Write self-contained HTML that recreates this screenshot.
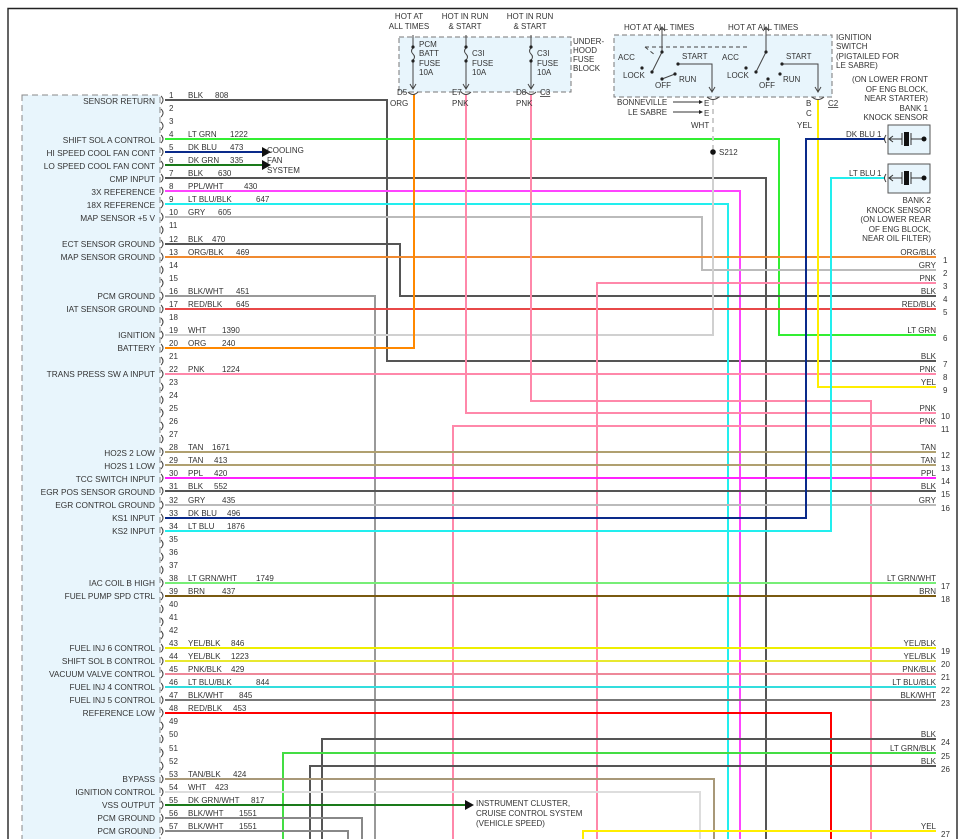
<!DOCTYPE html>
<html><head><meta charset="utf-8"><style>
html,body{margin:0;padding:0;background:#fff}
svg{display:block}
text{font-family:"Liberation Sans",Arial,sans-serif;font-size:8px;fill:#333}
.l{text-anchor:end;font-size:8.3px}
.r{text-anchor:end}
.c{text-anchor:middle}
path.w{fill:none;stroke-width:2}
</style></head><body>
<svg width="961" height="839" viewBox="0 0 961 839" xmlns="http://www.w3.org/2000/svg">
<path d="M8 839 V8.5 H957 V839" fill="none" stroke="#222" stroke-width="1.4"/>

<rect x="22" y="95" width="138" height="760" fill="#e8f5fc" stroke="#888" stroke-dasharray="6,4"/>

<g class="wires">
<path class="w" stroke="#555" d="M165 100 H387 V361 H936"/>
<path class="w" stroke="#33ee33" d="M165 139 H779 V335 H936"/>
<path class="w" stroke="#0a2a8a" d="M165 152 H262"/>
<path class="w" stroke="#1a7a1a" d="M165 165 H262"/>
<polygon points="262,147 271,152 262,157" fill="#111"/>
<polygon points="262,160 271,165 262,170" fill="#111"/>
<path class="w" stroke="#555" d="M165 178 H766 V839"/>
<path class="w" stroke="#ff44ff" d="M165 191 H740 V839"/>
<path class="w" stroke="#22eeee" d="M165 204 H728 V839"/>
<path class="w" stroke="#bbb" d="M165 217 H702 V270 H936"/>
<path class="w" stroke="#555" d="M165 244 H400 V296 H936"/>
<path class="w" stroke="#f08a30" d="M165 257 H936"/>
<path class="w" stroke="#999" d="M165 296 H375 V839"/>
<path class="w" stroke="#e84848" d="M165 309 H936"/>
<path class="w" stroke="#d0d0d0" d="M165 335 H713 V152"/>
<path class="w" stroke="#ccc" stroke-dasharray="5,4" d="M713 100 V152"/>
<circle cx="713" cy="152" r="2.8" fill="#111"/>
<path class="w" stroke="#ff8800" d="M165 348 H414 V94"/>
<path class="w" stroke="#ff88aa" d="M165 374 H936"/>
<path class="w" stroke="#ff88aa" d="M936 283 H597 V839"/>
<path class="w" stroke="#ffee00" d="M936 387 H818 V100"/>
<path class="w" stroke="#ff88aa" d="M466 94 V413 H936"/>
<path class="w" stroke="#ff88aa" d="M531 94 V401 H871 V839"/>
<path class="w" stroke="#ff88aa" d="M936 426 H453 V839"/>
<path class="w" stroke="#b0a070" d="M165 452 H936"/>
<path class="w" stroke="#b0a070" d="M165 465 H936"/>
<path class="w" stroke="#ff22ff" d="M165 478 H936"/>
<path class="w" stroke="#555" d="M165 491 H936"/>
<path class="w" stroke="#bbb" d="M165 505 H936"/>
<path class="w" stroke="#0a2a8a" d="M165 518 H806 V139 H885"/>
<path class="w" stroke="#22eeee" d="M165 531 H831 V178 H885"/>
<path class="w" stroke="#77ee77" d="M165 583 H936"/>
<path class="w" stroke="#7a5a10" d="M165 596 H936"/>
<path class="w" stroke="#eeee00" d="M165 648 H936"/>
<path class="w" stroke="#e8e830" d="M165 661 H936"/>
<path class="w" stroke="#ee8899" d="M165 674 H936"/>
<path class="w" stroke="#33dddd" d="M165 687 H936"/>
<path class="w" stroke="#777" d="M165 700 H936"/>
<path class="w" stroke="#ff0000" d="M165 713 H831 V839"/>
<path class="w" stroke="#555" d="M936 739 H322 V839"/>
<path class="w" stroke="#44dd44" d="M936 753 H283 V839"/>
<path class="w" stroke="#555" d="M936 766 H310 V839"/>
<path class="w" stroke="#a89878" d="M165 779 H714 V839"/>
<path class="w" stroke="#ddd" d="M165 792 H700 V839"/>
<path class="w" stroke="#1a7a1a" d="M165 805 H465"/>
<polygon points="465,800 474,805 465,810" fill="#111"/>
<path class="w" stroke="#888" d="M165 818 H362 V839"/>
<path class="w" stroke="#888" d="M165 831 H348 V839"/>
<path class="w" stroke="#ffee00" d="M936 831 H583 V839"/>
</g>

<g fill="none" stroke="#444" stroke-width="1">
<path d="M161 96 q4 4 0 8"/><path d="M161 109 q4 4 0 8"/><path d="M161 122 q4 4 0 8"/><path d="M161 135 q4 4 0 8"/><path d="M161 148 q4 4 0 8"/><path d="M161 161 q4 4 0 8"/><path d="M161 174 q4 4 0 8"/><path d="M161 187 q4 4 0 8"/><path d="M161 200 q4 4 0 8"/><path d="M161 213 q4 4 0 8"/><path d="M161 226 q4 4 0 8"/><path d="M161 240 q4 4 0 8"/><path d="M161 253 q4 4 0 8"/><path d="M161 266 q4 4 0 8"/><path d="M161 279 q4 4 0 8"/><path d="M161 292 q4 4 0 8"/><path d="M161 305 q4 4 0 8"/><path d="M161 318 q4 4 0 8"/><path d="M161 331 q4 4 0 8"/><path d="M161 344 q4 4 0 8"/><path d="M161 357 q4 4 0 8"/><path d="M161 370 q4 4 0 8"/><path d="M161 383 q4 4 0 8"/><path d="M161 396 q4 4 0 8"/><path d="M161 409 q4 4 0 8"/><path d="M161 422 q4 4 0 8"/><path d="M161 435 q4 4 0 8"/><path d="M161 448 q4 4 0 8"/><path d="M161 461 q4 4 0 8"/><path d="M161 474 q4 4 0 8"/><path d="M161 487 q4 4 0 8"/><path d="M161 501 q4 4 0 8"/><path d="M161 514 q4 4 0 8"/><path d="M161 527 q4 4 0 8"/><path d="M161 540 q4 4 0 8"/><path d="M161 553 q4 4 0 8"/><path d="M161 566 q4 4 0 8"/><path d="M161 579 q4 4 0 8"/><path d="M161 592 q4 4 0 8"/><path d="M161 605 q4 4 0 8"/><path d="M161 618 q4 4 0 8"/><path d="M161 631 q4 4 0 8"/><path d="M161 644 q4 4 0 8"/><path d="M161 657 q4 4 0 8"/><path d="M161 670 q4 4 0 8"/><path d="M161 683 q4 4 0 8"/><path d="M161 696 q4 4 0 8"/><path d="M161 709 q4 4 0 8"/><path d="M161 722 q4 4 0 8"/><path d="M161 735 q4 4 0 8"/><path d="M161 749 q4 4 0 8"/><path d="M161 762 q4 4 0 8"/><path d="M161 775 q4 4 0 8"/><path d="M161 788 q4 4 0 8"/><path d="M161 801 q4 4 0 8"/><path d="M161 814 q4 4 0 8"/><path d="M161 827 q4 4 0 8"/>
</g>

<g>
<text x="169" y="98">1</text><text x="169" y="111">2</text><text x="169" y="124">3</text><text x="169" y="137">4</text><text x="169" y="150">5</text><text x="169" y="163">6</text><text x="169" y="176">7</text><text x="169" y="189">8</text><text x="169" y="202">9</text><text x="169" y="215">10</text><text x="169" y="228">11</text><text x="169" y="242">12</text><text x="169" y="255">13</text><text x="169" y="268">14</text><text x="169" y="281">15</text><text x="169" y="294">16</text><text x="169" y="307">17</text><text x="169" y="320">18</text><text x="169" y="333">19</text><text x="169" y="346">20</text><text x="169" y="359">21</text><text x="169" y="372">22</text><text x="169" y="385">23</text><text x="169" y="398">24</text><text x="169" y="411">25</text><text x="169" y="424">26</text><text x="169" y="437">27</text><text x="169" y="450">28</text><text x="169" y="463">29</text><text x="169" y="476">30</text><text x="169" y="489">31</text><text x="169" y="503">32</text><text x="169" y="516">33</text><text x="169" y="529">34</text><text x="169" y="542">35</text><text x="169" y="555">36</text><text x="169" y="568">37</text><text x="169" y="581">38</text><text x="169" y="594">39</text><text x="169" y="607">40</text><text x="169" y="620">41</text><text x="169" y="633">42</text><text x="169" y="646">43</text><text x="169" y="659">44</text><text x="169" y="672">45</text><text x="169" y="685">46</text><text x="169" y="698">47</text><text x="169" y="711">48</text><text x="169" y="724">49</text><text x="169" y="737">50</text><text x="169" y="751">51</text><text x="169" y="764">52</text><text x="169" y="777">53</text><text x="169" y="790">54</text><text x="169" y="803">55</text><text x="169" y="816">56</text><text x="169" y="829">57</text>
</g>

<g>
<text class="l" x="155" y="104">SENSOR RETURN</text>
<text class="l" x="155" y="143">SHIFT SOL A CONTROL</text>
<text class="l" x="155" y="156">HI SPEED COOL FAN CONT</text>
<text class="l" x="155" y="169">LO SPEED COOL FAN CONT</text>
<text class="l" x="155" y="182">CMP INPUT</text>
<text class="l" x="155" y="195">3X REFERENCE</text>
<text class="l" x="155" y="208">18X REFERENCE</text>
<text class="l" x="155" y="221">MAP SENSOR +5 V</text>
<text class="l" x="155" y="247">ECT SENSOR GROUND</text>
<text class="l" x="155" y="260">MAP SENSOR GROUND</text>
<text class="l" x="155" y="299">PCM GROUND</text>
<text class="l" x="155" y="312">IAT SENSOR GROUND</text>
<text class="l" x="155" y="338">IGNITION</text>
<text class="l" x="155" y="351">BATTERY</text>
<text class="l" x="155" y="377">TRANS PRESS SW A INPUT</text>
<text class="l" x="155" y="456">HO2S 2 LOW</text>
<text class="l" x="155" y="469">HO2S 1 LOW</text>
<text class="l" x="155" y="482">TCC SWITCH INPUT</text>
<text class="l" x="155" y="495">EGR POS SENSOR GROUND</text>
<text class="l" x="155" y="508">EGR CONTROL GROUND</text>
<text class="l" x="155" y="521">KS1 INPUT</text>
<text class="l" x="155" y="534">KS2 INPUT</text>
<text class="l" x="155" y="586">IAC COIL B HIGH</text>
<text class="l" x="155" y="599">FUEL PUMP SPD CTRL</text>
<text class="l" x="155" y="651">FUEL INJ 6 CONTROL</text>
<text class="l" x="155" y="664">SHIFT SOL B CONTROL</text>
<text class="l" x="155" y="677">VACUUM VALVE CONTROL</text>
<text class="l" x="155" y="690">FUEL INJ 4 CONTROL</text>
<text class="l" x="155" y="703">FUEL INJ 5 CONTROL</text>
<text class="l" x="155" y="716">REFERENCE LOW</text>
<text class="l" x="155" y="782">BYPASS</text>
<text class="l" x="155" y="795">IGNITION CONTROL</text>
<text class="l" x="155" y="808">VSS OUTPUT</text>
<text class="l" x="155" y="821">PCM GROUND</text>
<text class="l" x="155" y="834">PCM GROUND</text>
</g>

<g>
<text x="188" y="98">BLK</text><text x="215" y="98">808</text>
<text x="188" y="137">LT GRN</text><text x="230" y="137">1222</text>
<text x="188" y="150">DK BLU</text><text x="230" y="150">473</text>
<text x="188" y="163">DK GRN</text><text x="230" y="163">335</text>
<text x="188" y="176">BLK</text><text x="218" y="176">630</text>
<text x="188" y="189">PPL/WHT</text><text x="244" y="189">430</text>
<text x="188" y="202">LT BLU/BLK</text><text x="256" y="202">647</text>
<text x="188" y="215">GRY</text><text x="218" y="215">605</text>
<text x="188" y="242">BLK</text><text x="212" y="242">470</text>
<text x="188" y="255">ORG/BLK</text><text x="236" y="255">469</text>
<text x="188" y="294">BLK/WHT</text><text x="236" y="294">451</text>
<text x="188" y="307">RED/BLK</text><text x="236" y="307">645</text>
<text x="188" y="333">WHT</text><text x="222" y="333">1390</text>
<text x="188" y="346">ORG</text><text x="222" y="346">240</text>
<text x="188" y="372">PNK</text><text x="222" y="372">1224</text>
<text x="188" y="450">TAN</text><text x="212" y="450">1671</text>
<text x="188" y="463">TAN</text><text x="214" y="463">413</text>
<text x="188" y="476">PPL</text><text x="214" y="476">420</text>
<text x="188" y="489">BLK</text><text x="214" y="489">552</text>
<text x="188" y="503">GRY</text><text x="222" y="503">435</text>
<text x="188" y="516">DK BLU</text><text x="227" y="516">496</text>
<text x="188" y="529">LT BLU</text><text x="227" y="529">1876</text>
<text x="188" y="581">LT GRN/WHT</text><text x="256" y="581">1749</text>
<text x="188" y="594">BRN</text><text x="222" y="594">437</text>
<text x="188" y="646">YEL/BLK</text><text x="231" y="646">846</text>
<text x="188" y="659">YEL/BLK</text><text x="231" y="659">1223</text>
<text x="188" y="672">PNK/BLK</text><text x="231" y="672">429</text>
<text x="188" y="685">LT BLU/BLK</text><text x="256" y="685">844</text>
<text x="188" y="698">BLK/WHT</text><text x="239" y="698">845</text>
<text x="188" y="711">RED/BLK</text><text x="233" y="711">453</text>
<text x="188" y="777">TAN/BLK</text><text x="233" y="777">424</text>
<text x="188" y="790">WHT</text><text x="215" y="790">423</text>
<text x="188" y="803">DK GRN/WHT</text><text x="251" y="803">817</text>
<text x="188" y="816">BLK/WHT</text><text x="239" y="816">1551</text>
<text x="188" y="829">BLK/WHT</text><text x="239" y="829">1551</text>
<text x="267" y="153">COOLING</text><text x="267" y="163">FAN</text><text x="267" y="173">SYSTEM</text>
<text x="476" y="806">INSTRUMENT CLUSTER,</text><text x="476" y="816">CRUISE CONTROL SYSTEM</text><text x="476" y="826">(VEHICLE SPEED)</text>
</g>

<g>
<text class="r" x="936" y="255">ORG/BLK</text><text x="943" y="263">1</text>
<text class="r" x="936" y="268">GRY</text><text x="943" y="276">2</text>
<text class="r" x="936" y="281">PNK</text><text x="943" y="289">3</text>
<text class="r" x="936" y="294">BLK</text><text x="943" y="302">4</text>
<text class="r" x="936" y="307">RED/BLK</text><text x="943" y="315">5</text>
<text class="r" x="936" y="333">LT GRN</text><text x="943" y="341">6</text>
<text class="r" x="936" y="359">BLK</text><text x="943" y="367">7</text>
<text class="r" x="936" y="372">PNK</text><text x="943" y="380">8</text>
<text class="r" x="936" y="385">YEL</text><text x="943" y="393">9</text>
<text class="r" x="936" y="411">PNK</text><text x="941" y="419">10</text>
<text class="r" x="936" y="424">PNK</text><text x="941" y="432">11</text>
<text class="r" x="936" y="450">TAN</text><text x="941" y="458">12</text>
<text class="r" x="936" y="463">TAN</text><text x="941" y="471">13</text>
<text class="r" x="936" y="476">PPL</text><text x="941" y="484">14</text>
<text class="r" x="936" y="489">BLK</text><text x="941" y="497">15</text>
<text class="r" x="936" y="503">GRY</text><text x="941" y="511">16</text>
<text class="r" x="936" y="581">LT GRN/WHT</text><text x="941" y="589">17</text>
<text class="r" x="936" y="594">BRN</text><text x="941" y="602">18</text>
<text class="r" x="936" y="646">YEL/BLK</text><text x="941" y="654">19</text>
<text class="r" x="936" y="659">YEL/BLK</text><text x="941" y="667">20</text>
<text class="r" x="936" y="672">PNK/BLK</text><text x="941" y="680">21</text>
<text class="r" x="936" y="685">LT BLU/BLK</text><text x="941" y="693">22</text>
<text class="r" x="936" y="698">BLK/WHT</text><text x="941" y="706">23</text>
<text class="r" x="936" y="737">BLK</text><text x="941" y="745">24</text>
<text class="r" x="936" y="751">LT GRN/BLK</text><text x="941" y="759">25</text>
<text class="r" x="936" y="764">BLK</text><text x="941" y="772">26</text>
<text class="r" x="936" y="829">YEL</text><text x="941" y="837">27</text>
</g>

<rect x="399" y="37" width="172" height="55" fill="#e8f5fc" stroke="#777" stroke-dasharray="5,3"/>
<text class="c" x="409" y="19">HOT AT</text><text class="c" x="409" y="29">ALL TIMES</text>
<text class="c" x="465" y="19">HOT IN RUN</text><text class="c" x="465" y="29">&amp; START</text>
<text class="c" x="530" y="19">HOT IN RUN</text><text class="c" x="530" y="29">&amp; START</text>
<g fill="none" stroke="#444" stroke-width="1">
<path d="M413 35 V48 q-3 3 0 6 q3 3 0 6 V88"/><path d="M466 35 V48 q-3 3 0 6 q3 3 0 6 V88"/><path d="M531 35 V48 q-3 3 0 6 q3 3 0 6 V88"/>
<path d="M410 84 L413 89 L416 84"/><path d="M463 84 L466 89 L469 84"/><path d="M528 84 L531 89 L534 84"/>
<path d="M408 92 q5 5 10 0"/><path d="M461 92 q5 5 10 0"/><path d="M526 92 q5 5 10 0"/>
</g>
<g fill="#222"><circle cx="413" cy="47" r="1.6"/><circle cx="413" cy="61" r="1.6"/><circle cx="466" cy="47" r="1.6"/><circle cx="466" cy="61" r="1.6"/><circle cx="531" cy="47" r="1.6"/><circle cx="531" cy="61" r="1.6"/></g>
<text x="419" y="47">PCM</text><text x="419" y="56">BATT</text><text x="419" y="66">FUSE</text><text x="419" y="75">10A</text>
<text x="472" y="56">C3I</text><text x="472" y="66">FUSE</text><text x="472" y="75">10A</text>
<text x="537" y="56">C3I</text><text x="537" y="66">FUSE</text><text x="537" y="75">10A</text>
<text x="573" y="44">UNDER-</text><text x="573" y="53">HOOD</text><text x="573" y="62">FUSE</text><text x="573" y="71">BLOCK</text>
<text x="397" y="95">D5</text><text x="452" y="95">E7</text><text x="516" y="95">D8</text><text x="540" y="95" text-decoration="underline">C3</text>
<text x="390" y="106">ORG</text><text x="452" y="106">PNK</text><text x="516" y="106">PNK</text>

<rect x="614" y="35" width="218" height="62" fill="#e8f5fc" stroke="#777" stroke-dasharray="5,3"/>
<text x="624" y="30">HOT AT ALL TIMES</text><text x="728" y="30">HOT AT ALL TIMES</text>
<text x="836" y="40">IGNITION</text><text x="836" y="49">SWITCH</text><text x="836" y="59">(PIGTAILED FOR</text><text x="836" y="68">LE SABRE)</text>
<g fill="none" stroke="#444" stroke-width="1">
<path d="M662 27 V52 L652 72"/><path d="M659 31 L662 27 L665 31"/>
<path d="M766 27 V52 L756 72"/><path d="M763 31 L766 27 L769 31"/>
<path d="M645 47 H750 M645 47 L655 55" stroke-dasharray="4,3"/>
<path d="M678 64 H712 V92"/><path d="M709 87 L712 92 L715 87"/>
<path d="M782 64 H818 V92"/><path d="M815 87 L818 92 L821 87"/>
<path d="M662 79 L675 74"/>
<path d="M707 97 q6 5 12 0"/><path d="M812 97 q6 5 12 0"/>
</g>
<g fill="#222"><circle cx="642" cy="68" r="1.6"/><circle cx="652" cy="72" r="1.6"/><circle cx="662" cy="52" r="1.6"/><circle cx="662" cy="79" r="1.6"/><circle cx="675" cy="74" r="1.6"/><circle cx="678" cy="64" r="1.6"/>
<circle cx="746" cy="68" r="1.6"/><circle cx="756" cy="72" r="1.6"/><circle cx="766" cy="52" r="1.6"/><circle cx="768" cy="79" r="1.6"/><circle cx="780" cy="74" r="1.6"/><circle cx="782" cy="64" r="1.6"/></g>
<text x="618" y="60">ACC</text><text x="623" y="78">LOCK</text><text x="655" y="88">OFF</text><text x="679" y="82">RUN</text><text x="682" y="59">START</text>
<text x="722" y="60">ACC</text><text x="727" y="78">LOCK</text><text x="759" y="88">OFF</text><text x="783" y="82">RUN</text><text x="786" y="59">START</text>
<text x="617" y="105">BONNEVILLE</text><text x="628" y="115">LE SABRE</text>
<g stroke="#333" stroke-width="1"><path d="M673 102 H700"/><path d="M673 112 H700"/></g>
<polygon points="699,100 703,102 699,104" fill="#222"/><polygon points="699,110 703,112 699,114" fill="#222"/>
<text x="704" y="106">E</text><text x="704" y="116">E</text><text x="691" y="128">WHT</text>
<text x="806" y="106">B</text><text x="806" y="116">C</text><text x="797" y="128">YEL</text>
<text x="828" y="106" text-decoration="underline">C2</text>
<text x="719" y="155">S212</text>

<text class="r" x="928" y="82">(ON LOWER FRONT</text><text class="r" x="928" y="92">OF ENG BLOCK,</text><text class="r" x="928" y="101">NEAR STARTER)</text><text class="r" x="928" y="111">BANK 1</text><text class="r" x="928" y="120">KNOCK SENSOR</text>
<text class="r" x="931" y="203">BANK 2</text><text class="r" x="931" y="213">KNOCK SENSOR</text><text class="r" x="931" y="222">(ON LOWER REAR</text><text class="r" x="931" y="232">OF ENG BLOCK,</text><text class="r" x="931" y="241">NEAR OIL FILTER)</text>
<text x="846" y="137">DK BLU</text><text x="877" y="137">1</text>
<text x="849" y="176">LT BLU</text><text x="877" y="176">1</text>
<rect x="888" y="125" width="42" height="29" fill="#e8f5fc" stroke="#555"/>
<rect x="888" y="164" width="42" height="29" fill="#e8f5fc" stroke="#555"/>
<g fill="none" stroke="#333" stroke-width="1">
<path d="M886 135 q-3 4 0 8"/><path d="M886 174 q-3 4 0 8"/>
<path d="M893 136 L889 139 L893 142 M889 139 H902 M902 133 V145 M911 133 V145 M911 139 H922"/>
<path d="M893 175 L889 178 L893 181 M889 178 H902 M902 172 V184 M911 172 V184 M911 178 H922"/>
</g>
<rect x="904" y="132" width="5" height="14" fill="#111"/><rect x="904" y="171" width="5" height="14" fill="#111"/>
<circle cx="924" cy="139" r="2.5" fill="#111"/><circle cx="924" cy="178" r="2.5" fill="#111"/>
</svg>
</body></html>
